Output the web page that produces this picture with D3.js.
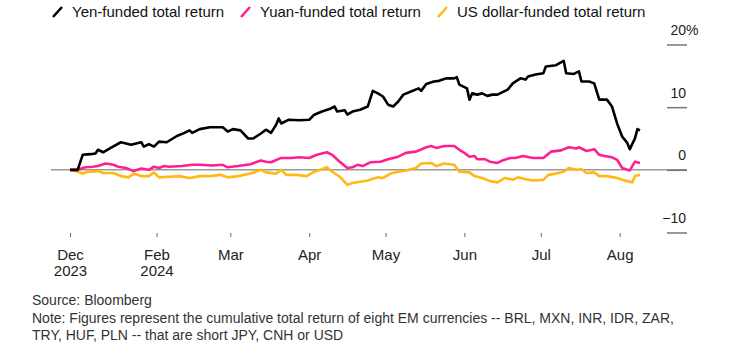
<!DOCTYPE html>
<html>
<head>
<meta charset="utf-8">
<script src="https://cdn.jsdelivr.net/npm/d3@7"></script>
<style>
  body { margin: 0; background: #fff; }
  svg { display: block; font-family: "Liberation Sans", Arial, sans-serif; }
</style>
</head>
<body>
<svg id="chart" width="730" height="354"></svg>
<script>
// Yen-funded cumulative total return (%)
var yenDates = ["2023-12-29","2024-01-01","2024-01-03","2024-01-06","2024-01-08","2024-01-09","2024-01-11","2024-01-14","2024-01-18","2024-01-22",
  "2024-01-26","2024-01-27","2024-01-29","2024-01-31","2024-02-02","2024-02-05","2024-02-09","2024-02-12","2024-02-14","2024-02-15",
  "2024-02-18","2024-02-22","2024-02-27","2024-02-29","2024-03-02","2024-03-05","2024-03-08","2024-03-10","2024-03-13","2024-03-15",
  "2024-03-17","2024-03-19","2024-03-20","2024-03-21","2024-03-24","2024-03-28","2024-04-01","2024-04-03","2024-04-06","2024-04-09",
  "2024-04-11","2024-04-12","2024-04-15","2024-04-16","2024-04-18","2024-04-21","2024-04-24","2024-04-26","2024-04-28","2024-04-30",
  "2024-05-02","2024-05-04","2024-05-06","2024-05-08","2024-05-11","2024-05-14","2024-05-15","2024-05-17","2024-05-20","2024-05-22",
  "2024-05-25","2024-05-28","2024-05-29","2024-05-30","2024-06-02","2024-06-03","2024-06-04","2024-06-06","2024-06-08","2024-06-10",
  "2024-06-12","2024-06-14","2024-06-15","2024-06-18","2024-06-20","2024-06-23","2024-06-25","2024-06-26","2024-06-29","2024-07-02",
  "2024-07-03","2024-07-07","2024-07-10","2024-07-11","2024-07-14","2024-07-16","2024-07-17","2024-07-20","2024-07-22","2024-07-24",
  "2024-07-27","2024-07-29","2024-07-31","2024-08-02","2024-08-04","2024-08-05","2024-08-07","2024-08-08","2024-08-09"];
var yenValues = [0,0,2.4,2.5,2.6,3.2,2.8,3.5,4.4,4.0,
  4.4,3.7,4.1,3.7,4.5,4.4,5.4,5.9,6.3,5.9,
  6.5,6.8,6.8,6.1,6.5,6.3,5.0,5.0,5.8,6.4,
  5.9,7.2,8.2,7.4,8.0,7.9,8.0,8.8,9.3,9.7,
  10.1,9.3,9.5,8.8,9.3,9.6,10.1,12.6,12.2,11.7,
  10.4,10.1,10.9,12.0,12.5,13.0,12.6,13.7,14.1,14.2,
  14.6,14.6,14.8,13.6,13.0,11.2,12.2,12.0,12.2,11.8,
  12.0,12.0,12.2,12.8,13.8,14.6,14.4,14.9,15.2,15.4,
  16.5,16.7,17.4,15.4,15.3,15.7,14.1,14.1,13.8,11.2,
  11.2,10.1,7.4,5.3,4.3,3.3,5.0,6.5,6.3];

// Yuan-funded cumulative total return (%)
var yuanDates = ["2023-12-29","2024-01-01","2024-01-04","2024-01-07","2024-01-09","2024-01-12","2024-01-15","2024-01-17","2024-01-20","2024-01-23",
  "2024-01-26","2024-01-29","2024-01-31","2024-02-02","2024-02-04","2024-02-06","2024-02-11","2024-02-15","2024-02-18","2024-02-23",
  "2024-02-27","2024-02-29","2024-03-04","2024-03-09","2024-03-13","2024-03-15","2024-03-17","2024-03-21","2024-03-25","2024-03-28",
  "2024-04-01","2024-04-04","2024-04-08","2024-04-10","2024-04-13","2024-04-16","2024-04-18","2024-04-20","2024-04-22","2024-04-25",
  "2024-04-29","2024-05-02","2024-05-06","2024-05-09","2024-05-13","2024-05-17","2024-05-19","2024-05-21","2024-05-24","2024-05-28",
  "2024-05-30","2024-06-01","2024-06-03","2024-06-05","2024-06-06","2024-06-09","2024-06-11","2024-06-14","2024-06-16","2024-06-19",
  "2024-06-21","2024-06-24","2024-06-28","2024-07-02","2024-07-05","2024-07-09","2024-07-12","2024-07-15","2024-07-16","2024-07-19",
  "2024-07-22","2024-07-24","2024-07-26","2024-07-29","2024-07-31","2024-08-02","2024-08-05","2024-08-07","2024-08-09"];
var yuanValues = [0,0,0.4,0.5,0.6,1.0,0.8,0.5,0.3,-0.2,
  0.2,0.0,0.5,0.3,0.6,0.5,0.6,0.8,0.8,0.7,
  0.8,0.4,0.6,0.9,1.5,1.3,1.2,1.9,1.9,2.0,
  1.9,2.4,2.8,2.4,1.3,0.3,0.4,0.8,0.6,1.2,
  1.3,1.7,2.1,2.7,2.9,3.6,3.8,3.5,3.8,3.8,
  3.2,2.7,2.1,2.2,1.7,1.7,1.3,1.1,1.5,1.9,
  1.9,2.2,1.9,1.9,2.9,3.1,3.6,3.4,3.6,3.0,
  3.3,2.4,2.2,2.0,1.6,0.3,-0.1,1.3,1.1];

// US dollar-funded cumulative total return (%)
var usdDates = ["2023-12-29","2024-01-01","2024-01-03","2024-01-05","2024-01-09","2024-01-11","2024-01-15","2024-01-18","2024-01-21","2024-01-23",
  "2024-01-26","2024-01-29","2024-01-31","2024-02-02","2024-02-06","2024-02-10","2024-02-14","2024-02-18","2024-02-22","2024-02-26",
  "2024-02-29","2024-03-04","2024-03-09","2024-03-13","2024-03-15","2024-03-19","2024-03-21","2024-03-23","2024-03-27","2024-03-31",
  "2024-04-03","2024-04-06","2024-04-08","2024-04-10","2024-04-13","2024-04-16","2024-04-18","2024-04-21","2024-04-24","2024-04-28",
  "2024-04-30","2024-05-03","2024-05-06","2024-05-09","2024-05-13","2024-05-15","2024-05-19","2024-05-21","2024-05-24","2024-05-28",
  "2024-05-30","2024-06-03","2024-06-05","2024-06-08","2024-06-11","2024-06-14","2024-06-17","2024-06-20","2024-06-22","2024-06-25",
  "2024-06-28","2024-07-02","2024-07-04","2024-07-07","2024-07-10","2024-07-12","2024-07-15","2024-07-17","2024-07-19","2024-07-22",
  "2024-07-24","2024-07-27","2024-07-31","2024-08-02","2024-08-06","2024-08-07","2024-08-09"];
var usdValues = [0,-0.3,-0.6,-0.3,-0.2,-0.5,-0.5,-1.0,-1.2,-0.6,
  -1.0,-1.0,-0.4,-1.2,-1.1,-1.0,-1.3,-1.0,-1.0,-0.8,
  -1.2,-1.0,-0.6,0.0,-0.4,-0.6,0.0,-0.8,-0.8,-1.0,
  -0.3,0.1,0.4,-0.3,-1.1,-2.4,-2.1,-1.9,-1.7,-1.2,
  -1.3,-0.6,-0.3,-0.1,0.3,1.0,1.1,0.6,1.0,0.8,
  -0.3,-0.4,-1.0,-1.3,-1.8,-2.0,-1.3,-1.6,-1.2,-1.5,
  -1.7,-1.6,-0.8,-0.6,-0.3,0.3,0.0,0.1,-0.5,-0.4,
  -1.0,-1.0,-1.3,-1.6,-2.0,-1.0,-0.8];

var seriesNames = ["Yen-funded total return", "Yuan-funded total return", "US dollar-funded total return"];
var seriesColors = ["#000000", "#ff1f8f", "#ffb914"];

var xTickDates = ["2023-12-29","2024-02-01","2024-03-01","2024-04-01","2024-05-01","2024-06-01","2024-07-01","2024-08-01"];
var xTickMonths = ["Dec","Feb","Mar","Apr","May","Jun","Jul","Aug"];
var xTickYears = ["2023","2024","","","","","",""];
var yTicks = [-10, 0, 10, 20];

var parse = d3.utcParse("%Y-%m-%d");
var svg = d3.select("#chart");

var x = d3.scaleUtc()
  .domain([parse("2023-12-29"), parse("2024-08-09")])
  .range([70, 640]);
var y = d3.scaleLinear()
  .domain([-10, 20])
  .range([232.5, 44.5]);

// legend
var legendX = [52, 240, 437];
seriesNames.forEach(function(name, i) {
  var g = svg.append("g").attr("transform", "translate(" + legendX[i] + ",0)");
  g.append("line")
    .attr("x1", 1).attr("y1", 17).attr("x2", 10).attr("y2", 7)
    .attr("stroke", seriesColors[i]).attr("stroke-width", 2.6);
  g.append("text")
    .attr("x", 20).attr("y", 17)
    .attr("font-size", "15px").attr("fill", "#111")
    .text(name);
});

// zero line
svg.append("line")
  .attr("x1", 51).attr("x2", 687)
  .attr("y1", y(0)).attr("y2", y(0))
  .attr("stroke", "#9a9a9a").attr("stroke-width", 1.5);

// right axis: short ticks with labels sitting above them
var yAxis = svg.append("g")
  .attr("transform", "translate(687,0)")
  .call(d3.axisLeft(y).tickValues(yTicks).tickSize(20).tickFormat(d3.format("d")));
yAxis.select(".domain").remove();
yAxis.selectAll(".tick line").attr("stroke", "#777").attr("stroke-width", 1.5);
yAxis.selectAll(".tick text")
  .attr("x", -1).attr("y", -10).attr("dy", 0)
  .attr("font-size", "14px").attr("font-family", null).attr("fill", "#222");
yAxis.selectAll(".tick").filter(function(d) { return d === 20; })
  .append("text")
  .attr("x", -1).attr("y", -10)
  .attr("text-anchor", "start")
  .attr("font-size", "14px").attr("fill", "#222")
  .text("%");

// bottom axis
var xAxis = svg.append("g")
  .attr("transform", "translate(0,233)")
  .call(d3.axisBottom(x)
    .tickValues(xTickDates.map(parse))
    .tickSize(4)
    .tickFormat(function(d, i) { return xTickMonths[i]; }));
xAxis.select(".domain").remove();
xAxis.selectAll(".tick line").attr("stroke", "#666").attr("stroke-width", 1);
xAxis.selectAll(".tick text")
  .attr("y", 16).attr("font-size", "15px").attr("font-family", null).attr("fill", "#222")
  .each(function(d, i) {
    if (xTickYears[i]) {
      d3.select(this).append("tspan")
        .attr("x", 0).attr("dy", "1.1em")
        .text(xTickYears[i]);
    }
  });

// lines
var line = d3.line()
  .x(function(d) { return x(d.date); })
  .y(function(d) { return y(d.value); });

var series = [
  { dates: usdDates, values: usdValues, color: seriesColors[2] },
  { dates: yuanDates, values: yuanValues, color: seriesColors[1] },
  { dates: yenDates, values: yenValues, color: seriesColors[0] }
];
series.forEach(function(s) {
  var pts = s.dates.map(function(d, i) { return { date: parse(d), value: s.values[i] }; });
  svg.append("path")
    .datum(pts)
    .attr("d", line)
    .attr("fill", "none")
    .attr("stroke", s.color)
    .attr("stroke-width", 2.6)
    .attr("stroke-linejoin", "round");
});

// footer
var footer = [
  "Source: Bloomberg",
  "Note: Figures represent the cumulative total return of eight EM currencies -- BRL, MXN, INR, IDR, ZAR,",
  "TRY, HUF, PLN -- that are short JPY, CNH or USD"
];
svg.append("g").selectAll("text")
  .data(footer)
  .join("text")
  .attr("x", 32)
  .attr("y", function(d, i) { return 305 + i * 17.5; })
  .attr("font-size", "14px")
  .attr("fill", "#333")
  .text(function(d) { return d; });
</script>
</body>
</html>
